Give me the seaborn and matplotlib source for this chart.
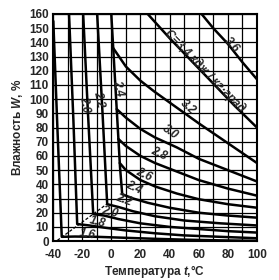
import matplotlib
matplotlib.use("Agg")
import matplotlib.pyplot as plt
import pandas as pd
import seaborn as sns

# Iso-lines of specific heat C (kJ/kg·K): temperature t (°C) vs moisture W (%)
t_16 = [-39.8, -37, -34, -25, -10, 10, 30, 50, 75, 100]
w_16 = [155, 80, 3, 3.2, 3.0, 2.3, 1.6, 1.0, 0.5, 0.2]
t_18 = [-29, -26, -23.4, -15, -5, 10, 30, 50, 75, 100]
w_18 = [160, 85, 12, 11, 9.5, 7.5, 5.5, 4, 3, 2]
t_20 = [-19.3, -16, -12.4, -5, 5, 20, 40, 60, 80, 100]
w_20 = [160, 90, 19, 18, 15.5, 12.5, 10, 8.5, 7, 6]
t_22 = [-9.7, -6, -2.8, 5, 15, 30, 50, 75, 100]
w_22 = [160, 90, 26, 24, 21, 17.5, 14.5, 12.5, 11]
t_24 = [0, 2, 4, 6, 7.5, 15, 25, 40, 60, 80, 100]
w_24 = [160, 124, 88, 52, 33, 30, 27, 23.5, 20, 18, 16.5]
t_26 = [5.8, 10, 20, 30, 45, 60, 80, 100]
w_26 = [55, 50, 43, 38.5, 33.5, 29.5, 26, 23.5]
t_28 = [4.8, 10, 20, 30, 45, 60, 80, 100]
w_28 = [72, 67, 60, 55, 49, 43, 37, 32]
t_30 = [3.7, 10, 20, 30, 45, 60, 80, 100]
w_30 = [93, 87, 79, 73, 66, 58, 50, 42]
t_32 = [1.3, 10, 20, 30, 45, 60, 80, 100]
w_32 = [136, 123, 113, 105, 94, 83, 69, 55]
t_34 = [25, 40, 55, 70, 85, 100]
w_34 = [160, 143, 127, 111, 95, 80]
t_36 = [62, 70, 80, 90, 100]
w_36 = [160, 150, 139, 126, 114]

# boundary line (dashed) through the bends of the lower curves
t_dash = [-37, -2.5]
w_dash = [0.5, 26.5]

curves = {
    '1.6': (t_16, w_16), '1.8': (t_18, w_18), '2.0': (t_20, w_20),
    '2.2': (t_22, w_22), '2.4': (t_24, w_24), '2.6': (t_26, w_26),
    '2.8': (t_28, w_28), '3.0': (t_30, w_30), '3.2': (t_32, w_32),
    '3.4': (t_34, w_34), '3.6': (t_36, w_36),
}

rows = []
for c, (ts, ws) in curves.items():
    for i, (t, w) in enumerate(zip(ts, ws)):
        rows.append({'C': c, 'order': i, 't': t, 'W': w})
df = pd.DataFrame(rows)

# curve labels: text, t, W, rotation
lab_text = ['1.6', '1.8', '2.0', '2.2', '2.4', '2.6', '2.8', '3.0', '3.2', '3.6',
            '2.0', '2.2', '2.4', 'C=3,4 кдж / кг·град']
lab_t = [-16.6, -9.7, -0.7, 8.3, 15.2, 22, 32.4, 40.7, 52.4, 82.8,
         -18.3, -8.6, 4.6, 64.5]
lab_w = [5.0, 13, 20, 29, 37.5, 46.5, 61.5, 77, 94.5, 138,
         96, 100, 108, 120]
lab_rot = [-10, -15, -15, -20, -25, -25, -25, -35, -42, -48,
           -80, -78, -76, -46]

sns.set_style('white')
fam = ['Liberation Sans', 'DejaVu Sans']
plt.rcParams['font.family'] = fam
plt.rcParams['axes.unicode_minus'] = False
plt.rcParams['mathtext.fontset'] = 'custom'
plt.rcParams['mathtext.it'] = 'Liberation Sans:italic:bold'
plt.rcParams['mathtext.rm'] = 'Liberation Sans:bold'

fig = plt.figure(figsize=(2.79, 2.80), dpi=100)
ax = fig.add_axes([0.19, 0.139, 0.731, 0.811])

sns.lineplot(data=df, x='t', y='W', units='C', estimator=None, sort=False,
             color='black', lw=1.8, ax=ax, legend=False)
sns.lineplot(x=t_dash, y=w_dash, color='black', lw=0.9, ax=ax,
             linestyle=(0, (2.5, 1.5)), legend=False)

for s, t, w, r in zip(lab_text, lab_t, lab_w, lab_rot):
    ax.text(t, w, s, rotation=r, rotation_mode='anchor', ha='center', va='center',
            fontsize=8.5, style='italic', weight='bold', family=fam)

ax.set_xlim(-40, 100)
ax.set_ylim(0, 160)
ax.set_xticks(range(-40, 101, 20))
ax.set_xticks(range(-40, 101, 10), minor=True)
ax.set_yticks(range(0, 161, 10))
ax.grid(which='both', color='black', lw=0.9)
ax.tick_params(which='both', length=0)
ax.tick_params(axis='x', pad=6)
ax.tick_params(axis='y', pad=3)
for lbl in ax.get_xticklabels() + ax.get_yticklabels():
    lbl.set_fontsize(8.5)
    lbl.set_fontweight('bold')
for sp in ax.spines.values():
    sp.set_color('black')
    sp.set_linewidth(1.5)

ax.set_xlabel('Температура $t$,°C', fontsize=8.5, weight='bold', labelpad=1)
ax.set_ylabel('Влажность $W$, %', fontsize=8.5, weight='bold', labelpad=3)

fig.savefig('out.png', dpi=100, facecolor='white')
plt.close(fig)
